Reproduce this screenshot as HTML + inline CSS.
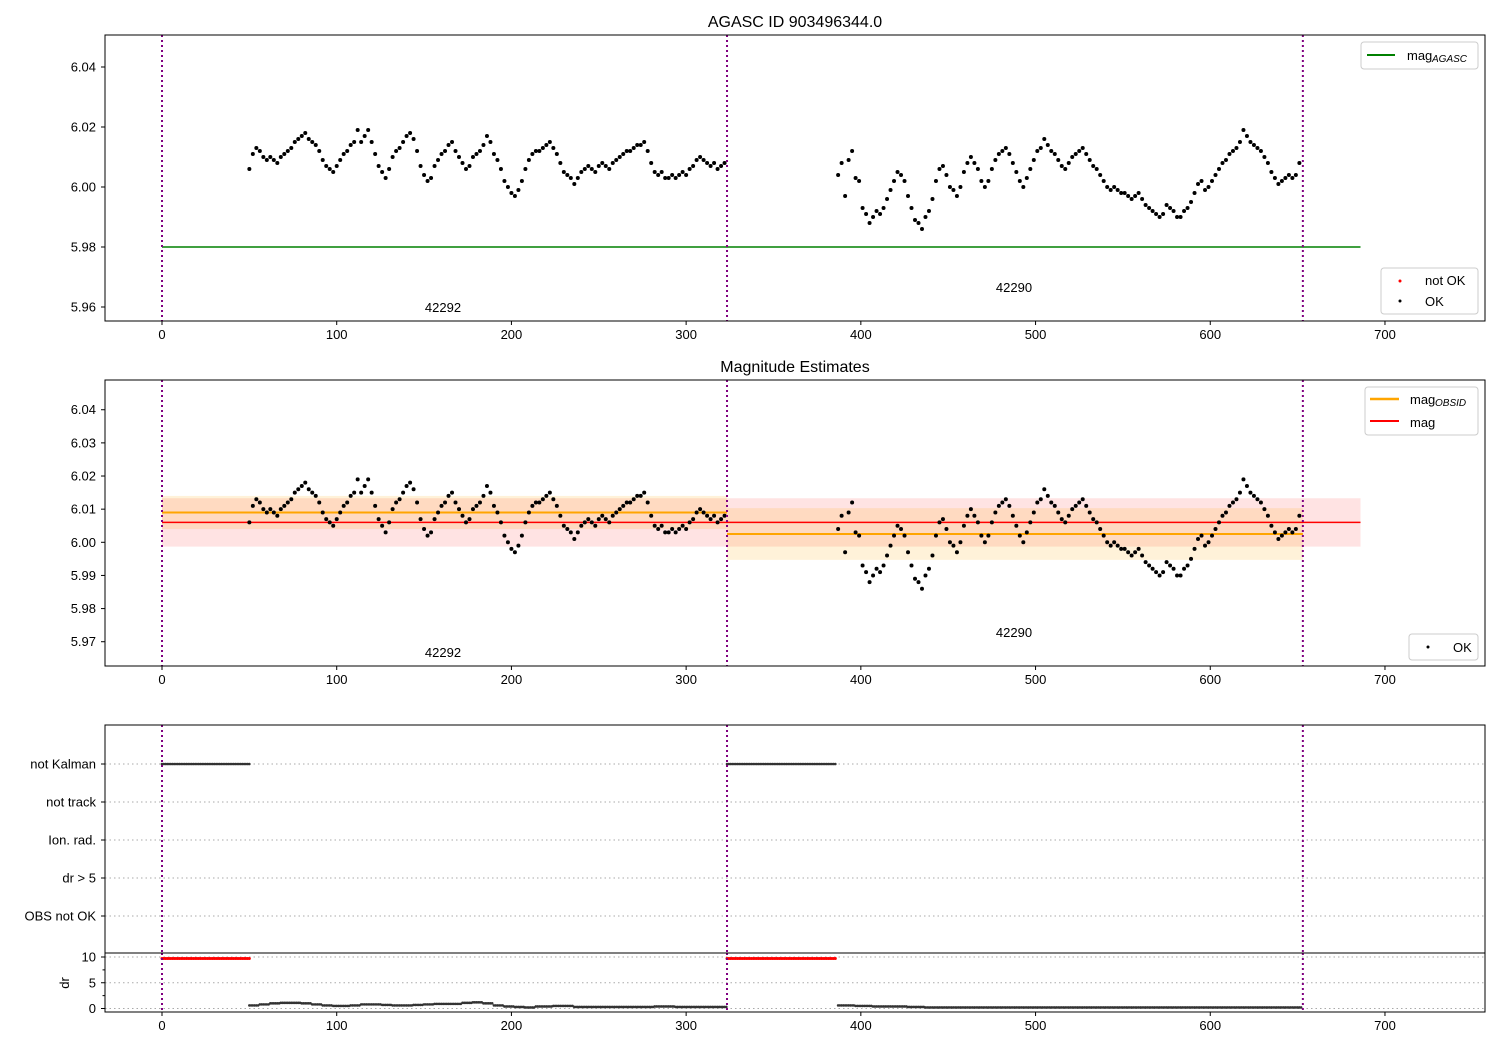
<!DOCTYPE html>
<html><head><meta charset="utf-8"><style>
body{margin:0;background:#fff;}
svg{display:block;font-family:"Liberation Sans","DejaVu Sans",sans-serif;}
</style></head><body>
<svg id="chart" width="1500" height="1050" xmlns="http://www.w3.org/2000/svg"></svg>
<script>
// ---- data ----
const seg1Start = 50;
const seg1Mag = [6.006,6.011,6.013,6.012,6.010,6.009,6.010,6.009,6.008,6.010,6.011,6.012,6.013,6.015,6.016,6.017,6.018,6.016,6.015,6.014,6.012,6.009,6.007,6.006,6.005,6.007,6.009,6.011,6.012,6.014,6.015,6.019,6.015,6.017,6.019,6.015,6.011,6.007,6.005,6.003,6.006,6.010,6.012,6.013,6.015,6.017,6.018,6.016,6.012,6.007,6.004,6.002,6.003,6.007,6.009,6.011,6.012,6.014,6.015,6.012,6.010,6.008,6.006,6.007,6.010,6.011,6.012,6.014,6.017,6.015,6.011,6.009,6.006,6.002,6.000,5.998,5.997,5.999,6.002,6.006,6.009,6.011,6.012,6.012,6.013,6.014,6.015,6.013,6.011,6.008,6.005,6.004,6.003,6.001,6.003,6.005,6.006,6.007,6.006,6.005,6.007,6.008,6.007,6.006,6.008,6.009,6.010,6.011,6.012,6.012,6.013,6.014,6.014,6.015,6.012,6.008,6.005,6.004,6.005,6.003,6.003,6.004,6.003,6.004,6.005,6.004,6.006,6.007,6.009,6.010,6.009,6.008,6.007,6.008,6.006,6.007,6.008];
const seg2Start = 387;
const seg2Mag = [6.004,6.008,5.997,6.009,6.012,6.003,6.002,5.993,5.991,5.988,5.990,5.992,5.991,5.993,5.996,5.999,6.002,6.005,6.004,6.002,5.997,5.993,5.989,5.988,5.986,5.990,5.992,5.996,6.002,6.006,6.007,6.004,6.000,5.999,5.997,6.000,6.005,6.008,6.010,6.008,6.006,6.002,6.000,6.002,6.006,6.009,6.011,6.012,6.013,6.011,6.008,6.005,6.002,6.000,6.003,6.006,6.009,6.012,6.013,6.016,6.014,6.012,6.011,6.009,6.007,6.006,6.008,6.010,6.011,6.012,6.013,6.011,6.009,6.007,6.006,6.004,6.002,6.000,5.999,6.000,5.999,5.998,5.998,5.997,5.996,5.997,5.998,5.996,5.994,5.993,5.992,5.991,5.990,5.991,5.994,5.993,5.992,5.990,5.990,5.992,5.993,5.995,5.998,6.001,6.002,5.999,6.000,6.002,6.004,6.006,6.008,6.009,6.011,6.012,6.013,6.015,6.019,6.017,6.015,6.014,6.013,6.012,6.010,6.008,6.005,6.003,6.001,6.002,6.003,6.004,6.003,6.004,6.008];
const seg1Dr = [0.6,0.8,1.0,1.1,1.1,1.0,0.8,0.6,0.5,0.5,0.6,0.8,0.8,0.7,0.6,0.6,0.7,0.8,0.9,0.9,0.9,1.1,1.2,1.0,0.6,0.4,0.3,0.2,0.4,0.4,0.5,0.5,0.3,0.3,0.3,0.3,0.3,0.3,0.3,0.3,0.4,0.4,0.3,0.3,0.3,0.3,0.3,0.3];
const seg2Dr = [0.6,0.5,0.4,0.4,0.3,0.2,0.2,0.2,0.2,0.2,0.2,0.2,0.2,0.2,0.2,0.2,0.2,0.2,0.2,0.2,0.2,0.2,0.2,0.2,0.2,0.2,0.2,0.2];
const obsids = ["42292","42290"];
const obsStart = [0,323.4];
const obsEnd = [323.4,653];
const obsMean = [6.009,6.0025];
const obsErr = [0.005,0.0078];
const magMean = 6.006, magErr = 0.0073, magAgasc = 5.98;
const kalmanRanges = [[0,50],[323.4,386]];
const xTicks = [0,100,200,300,400,500,600,700];
const y1Ticks = [5.96,5.98,6.00,6.02,6.04];
const y2Ticks = [5.97,5.98,5.99,6.00,6.01,6.02,6.03,6.04];
const flagLabels = ["not Kalman","not track","Ion. rad.","dr > 5","OBS not OK"];
const drTicks = [0,5,10];

// ---- helpers ----
const svg = document.getElementById('chart');
const NS = 'http://www.w3.org/2000/svg';
function el(tag, attrs, parent){const e=document.createElementNS(NS,tag);for(const k in attrs)e.setAttribute(k,attrs[k]);(parent||svg).appendChild(e);return e;}
function txt(s, attrs, parent){const e=el('text',attrs,parent);e.textContent=s;return e;}
const X = v => 162 + v*1.7471;
const Y1 = v => 187 - (v-6.00)*3000;
const Y2 = v => 542.3 - (v-6.00)*3314;
const YF = i => 764 + i*38;
const YD = v => 1008.5 - v*5.15;

function frame(top,bottom,name){
  const r=el('rect',{x:105,y:top,width:1380,height:bottom-top,fill:'none',stroke:'#000','stroke-width':1});
  
  
}
function xAxis(bottom){
  const g=el('g',{});
  
  
  xTicks.forEach(t=>{el('line',{x1:X(t),x2:X(t),y1:bottom,y2:bottom+4,stroke:'#000'},g);
    txt(String(t),{x:X(t),y:bottom+18,'font-size':13,'text-anchor':'middle'},g);});
}
function yAxis(ticks,Yf,fmt){
  const g=el('g',{});
  
  
  ticks.forEach(t=>{el('line',{x1:101,x2:105,y1:Yf(t),y2:Yf(t),stroke:'#000'},g);
    txt(fmt(t),{x:96,y:Yf(t)+4.5,'font-size':13,'text-anchor':'end'},g);});
}
function vlines(top,bottom){
  [0,323.4,653].forEach(v=>{const l=el('line',{x1:X(v),x2:X(v),y1:top,y2:bottom,stroke:'#800080','stroke-width':2,'stroke-dasharray':'2,3'});
    
    });
}
function dots(Yf,name){
  const g=el('g',{});
  
  
  seg1Mag.forEach((m,i)=>el('circle',{cx:X(seg1Start+2*i),cy:Yf(m),r:2,fill:'#000'},g));
  seg2Mag.forEach((m,i)=>el('circle',{cx:X(seg2Start+2*i),cy:Yf(m),r:2,fill:'#000'},g));
}

// ---- panel 1 ----
txt('AGASC ID 903496344.0',{x:795,y:27,'font-size':16,'text-anchor':'middle'});
yAxis(y1Ticks,Y1,t=>t.toFixed(2));
xAxis(321);
const ag=el('line',{x1:X(0),x2:X(686),y1:Y1(magAgasc),y2:Y1(magAgasc),stroke:'#008000','stroke-width':1.5});


dots(Y1,'mag-points-top');
vlines(35,321);
txt(obsids[0],{x:443,y:312,'font-size':13,'text-anchor':'middle'});
txt(obsids[1],{x:1014,y:292,'font-size':13,'text-anchor':'middle'});
frame(35,321,'top-panel');
let lg=el('g',{});


el('rect',{x:1361,y:42,width:117,height:27,rx:3,fill:'#fff',stroke:'#ccc'},lg);
el('line',{x1:1367,x2:1395,y1:55,y2:55,stroke:'#008000','stroke-width':2},lg);
txt('mag',{x:1407,y:60,'font-size':13},lg);
txt('AGASC',{x:1432,y:62,'font-size':10,'font-style':'italic'},lg);
lg=el('g',{});


el('rect',{x:1381,y:268,width:97,height:46,rx:3,fill:'#fff',stroke:'#ccc'},lg);
el('circle',{cx:1400,cy:281,r:1.5,fill:'red'},lg);
txt('not OK',{x:1425,y:285,'font-size':13},lg);
el('circle',{cx:1400,cy:301,r:1.5,fill:'#000'},lg);
txt('OK',{x:1425,y:306,'font-size':13},lg);

// ---- panel 2 ----
txt('Magnitude Estimates',{x:795,y:372,'font-size':16,'text-anchor':'middle'});
yAxis(y2Ticks,Y2,t=>t.toFixed(2));
xAxis(666);
const mb=el('rect',{x:X(0),y:Y2(magMean+magErr),width:X(686)-X(0),height:Y2(magMean-magErr)-Y2(magMean+magErr),fill:'red','fill-opacity':0.11});


obsids.forEach((o,i)=>{
  const b=el('rect',{x:X(obsStart[i]),y:Y2(obsMean[i]+obsErr[i]),width:X(obsEnd[i])-X(obsStart[i]),height:Y2(obsMean[i]-obsErr[i])-Y2(obsMean[i]+obsErr[i]),fill:'orange','fill-opacity':0.15});
  
  
});
obsids.forEach((o,i)=>{
  const l=el('line',{x1:X(obsStart[i]),x2:X(obsEnd[i]),y1:Y2(obsMean[i]),y2:Y2(obsMean[i]),stroke:'orange','stroke-width':2});
  
  
});
const ml=el('line',{x1:X(0),x2:X(686),y1:Y2(magMean),y2:Y2(magMean),stroke:'red','stroke-width':1.5});


dots(Y2,'mag-points-middle');
vlines(380,666);
txt(obsids[0],{x:443,y:657,'font-size':13,'text-anchor':'middle'});
txt(obsids[1],{x:1014,y:637,'font-size':13,'text-anchor':'middle'});
frame(380,666,'middle-panel');
lg=el('g',{});


el('rect',{x:1365,y:387,width:113,height:48,rx:3,fill:'#fff',stroke:'#ccc'},lg);
el('line',{x1:1370,x2:1399,y1:399,y2:399,stroke:'orange','stroke-width':2.5},lg);
txt('mag',{x:1410,y:404,'font-size':13},lg);
txt('OBSID',{x:1435,y:406,'font-size':10,'font-style':'italic'},lg);
el('line',{x1:1370,x2:1399,y1:421,y2:421,stroke:'red','stroke-width':2},lg);
txt('mag',{x:1410,y:427,'font-size':13},lg);
lg=el('g',{});


el('rect',{x:1409,y:634,width:69,height:26,rx:3,fill:'#fff',stroke:'#ccc'},lg);
el('circle',{cx:1428,cy:647,r:1.5,fill:'#000'},lg);
txt('OK',{x:1453,y:652,'font-size':13},lg);

// ---- panel 3: flags ----
flagLabels.forEach((f,i)=>{
  el('line',{x1:105,x2:1485,y1:YF(i),y2:YF(i),stroke:'#aaa','stroke-dasharray':'1.5,3'});
  el('line',{x1:101,x2:105,y1:YF(i),y2:YF(i),stroke:'#000'});
  txt(f,{x:96,y:YF(i)+4.5,'font-size':13,'text-anchor':'end'});
});
kalmanRanges.forEach(r=>{
  const g=el('g',{});
  
  
  for(let v=r[0];v<=r[1];v+=1){el('circle',{cx:X(v),cy:YF(0),r:1.3,fill:'#333'},g);}
});
vlines(725,953);
frame(725,953,'flags-panel');
drTicks.forEach(d=>{
  el('line',{x1:105,x2:1485,y1:YD(d),y2:YD(d),stroke:'#aaa','stroke-dasharray':'1.5,3'});
  el('line',{x1:101,x2:105,y1:YD(d),y2:YD(d),stroke:'#000'});
  txt(String(d),{x:96,y:YD(d)+4.5,'font-size':13,'text-anchor':'end'});
});
[2.5,7.5].forEach(d=>el('line',{x1:102.5,x2:105,y1:YD(d),y2:YD(d),stroke:'#000'}));
txt('dr',{x:0,y:0,'font-size':13,'text-anchor':'middle',transform:'translate(69,983) rotate(-90)'});
kalmanRanges.forEach(r=>{
  const g=el('g',{});
  
  
  for(let v=r[0];v<=r[1];v+=1){el('circle',{cx:X(v),cy:YD(9.7),r:1.5,fill:'red'},g);}
});
const drg=el('g',{});


seg1Mag.forEach((m,i)=>{const d=seg1Dr[Math.min(seg1Dr.length-1,Math.floor(i*2/5.8))];el('circle',{cx:X(seg1Start+2*i),cy:YD(d),r:1.3,fill:'#333'},drg);el('circle',{cx:X(seg1Start+2*i+1),cy:YD(d),r:1.3,fill:'#333'},drg);});
seg2Mag.forEach((m,i)=>{const d=seg2Dr[Math.min(seg2Dr.length-1,Math.floor(i*2/10))];el('circle',{cx:X(seg2Start+2*i),cy:YD(d),r:1.3,fill:'#333'},drg);el('circle',{cx:X(seg2Start+2*i+1),cy:YD(d),r:1.3,fill:'#333'},drg);});
[0,323.4,653].forEach(v=>el('line',{x1:X(v),x2:X(v),y1:953,y2:1012,stroke:'#800080','stroke-width':2,'stroke-dasharray':'2,3'}));
frame(953,1012,'dr-panel');
xAxis(1012);
</script>
</body></html>
